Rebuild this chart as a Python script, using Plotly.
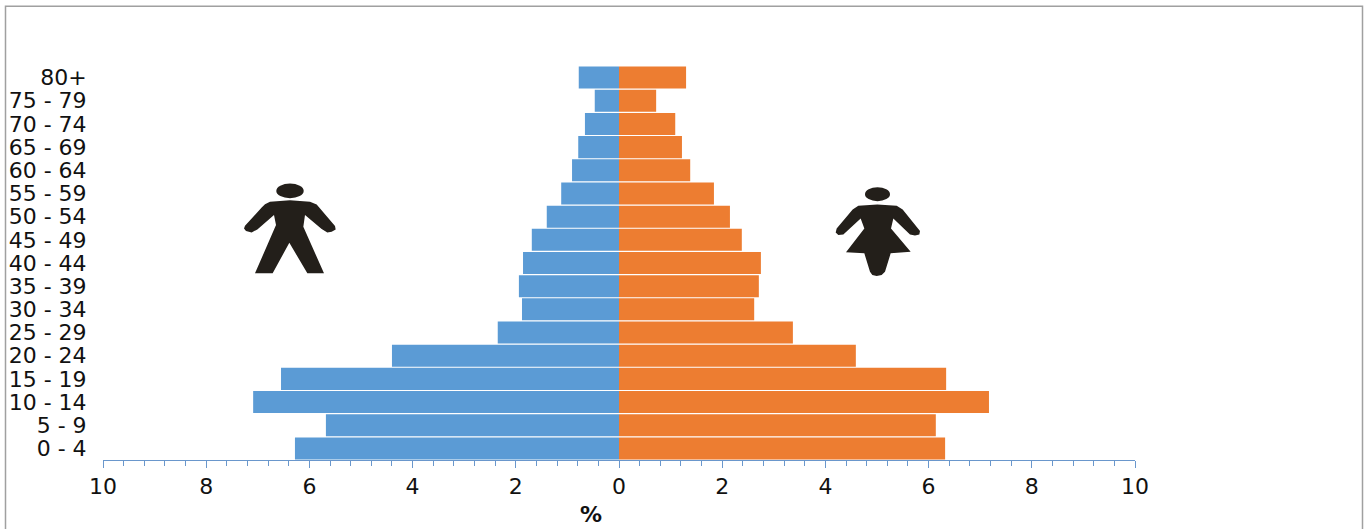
import plotly.graph_objects as go

age_groups = ["0 - 4", "5 - 9", "10 - 14", "15 - 19", "20 - 24", "25 - 29", "30 - 34", "35 - 39", "40 - 44",
              "45 - 49", "50 - 54", "55 - 59", "60 - 64", "65 - 69", "70 - 74", "75 - 79", "80+"]
male = [6.28, 5.68, 7.09, 6.55, 4.40, 2.35, 1.88, 1.94, 1.86, 1.69, 1.40, 1.12, 0.91, 0.79, 0.66, 0.47, 0.78]
female = [6.32, 6.14, 7.17, 6.34, 4.59, 3.37, 2.62, 2.71, 2.75, 2.38, 2.15, 1.84, 1.38, 1.22, 1.09, 0.72, 1.30]
tick_values = [-10, -8, -6, -4, -2, 0, 2, 4, 6, 8, 10]
tick_labels = ["10", "8", "6", "4", "2", "0", "2", "4", "6", "8", "10"]

W, H = 1370, 529
L, R, T, B = 103, 1135, 65.5, 460.5
AXIS = "#6a97cc"
TEXT = "#111111"
ICON = "#231f1a"


def px(x, y):
    # "paper" coordinates are fractions of the plot area
    return ((x - L) / (R - L), (B - y) / (B - T))


def outline(points, ox, oy):
    parts = []
    for i, (x, y) in enumerate(points):
        a, b = px(ox + x / 3, oy + y / 3)
        parts.append(f"{'M' if i == 0 else 'L'} {a:.5f} {b:.5f}")
    return " ".join(parts) + " Z"


def ellipse(cx, cy, rx, ry):
    x0, y1 = px(cx - rx, cy - ry)
    x1, y0 = px(cx + rx, cy + ry)
    return dict(type="circle", xref="paper", yref="paper", x0=x0, x1=x1, y0=y0, y1=y1,
                fillcolor=ICON, line_width=0)


man = [(150, 95), (210, 90), (270, 95), (290, 103), (345, 168), (347, 178), (335, 185), (322, 187), (305, 177),
       (255, 135), (250, 170), (312, 310), (262, 310), (208, 218), (158, 310), (105, 310), (168, 165), (162, 135),
       (112, 178), (95, 187), (78, 183), (72, 175), (75, 167), (125, 112), (135, 102)]
woman = [(115, 92), (172, 88), (230, 92), (248, 103), (300, 168), (298, 178), (285, 181), (270, 178), (220, 130),
         (213, 160), (272, 230), (212, 235), (195, 290), (185, 300), (170, 303), (157, 300), (150, 290), (133, 235),
         (78, 232), (133, 160), (122, 130), (70, 178), (55, 180), (47, 172), (50, 160), (98, 103)]

bx0, by1 = px(5.5, 5.5)
bx1, by0 = px(1362.5, 560)
tx, ty = px(590.5, 515)

shapes = [
    dict(type="rect", xref="paper", yref="paper", x0=bx0, x1=bx1, y0=by0, y1=by1,
         line=dict(color="#a0a0a0", width=1.5), fillcolor="rgba(0,0,0,0)", layer="below"),
    ellipse(290, 190.7, 13.7, 7.3),
    dict(type="path", xref="paper", yref="paper", path=outline(man, 220, 170), fillcolor=ICON, line_width=0),
    ellipse(877.5, 194, 12.5, 7),
    dict(type="path", xref="paper", yref="paper", path=outline(woman, 820, 175), fillcolor=ICON, line_width=0),
]

fig = go.Figure()
fig.add_bar(y=age_groups, x=[-v for v in male], orientation="h", name="Male", marker=dict(color="#5b9bd5", line_width=0))
fig.add_bar(y=age_groups, x=female, orientation="h", name="Female", marker=dict(color="#ed7d31", line_width=0))

fig.update_layout(
    width=W, height=H, barmode="overlay", bargap=0.05, showlegend=False,
    margin=dict(l=L, r=W - R, t=T, b=H - B, pad=0, autoexpand=False),
    paper_bgcolor="white", plot_bgcolor="white",
    font=dict(family="DejaVu Sans", size=22, color=TEXT),
    shapes=shapes,
    annotations=[dict(text="<b>%</b>", xref="paper", yref="paper", x=tx, y=ty, showarrow=False,
                      xanchor="center", yanchor="middle", font=dict(size=22, color=TEXT))],
    xaxis=dict(range=[-10, 10], tickvals=tick_values, ticktext=tick_labels, ticks="outside", ticklen=7, tickwidth=1,
               tickcolor=AXIS, showline=True, linecolor=AXIS, linewidth=1, showgrid=False, zeroline=False,
               tickfont=dict(size=22), minor=dict(dtick=0.4, tick0=-10, ticks="outside", ticklen=5, tickwidth=1,
                                                   tickcolor=AXIS, showgrid=False)),
    yaxis=dict(type="category", categoryorder="array", categoryarray=age_groups, tickmode="array",
               tickvals=age_groups, ticktext=age_groups, showgrid=False, zeroline=False,
               showline=False, ticks="outside", ticklen=11, tickcolor="rgba(0,0,0,0)", tickfont=dict(size=22)),
)
fig.write_html("out.html", config={"displayModeBar": False},
               post_script="document.body.style.margin='0';document.body.style.overflow='hidden';")
